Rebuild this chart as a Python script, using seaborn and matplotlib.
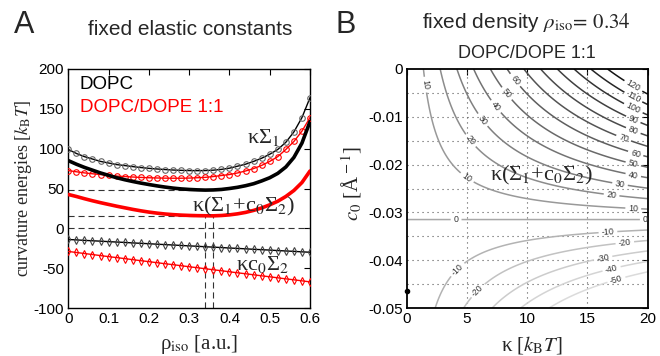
import numpy as np
import pandas as pd
import matplotlib
matplotlib.use("Agg")
import matplotlib.pyplot as plt
from matplotlib.ticker import FixedLocator, FixedFormatter
import seaborn as sns

# ---------------- data: panel A ----------------
rho_iso = [0.00, 0.02, 0.04, 0.06, 0.08, 0.10, 0.12, 0.14, 0.16, 0.18,
           0.20, 0.22, 0.24, 0.26, 0.28, 0.30, 0.32, 0.34, 0.36, 0.38,
           0.40, 0.42, 0.44, 0.46, 0.48, 0.50, 0.52, 0.54, 0.56, 0.58, 0.60]
# kappa*Sigma1
dopc_bending = [99, 94, 90, 87, 84, 82, 80, 78.8, 77.5, 76.3,
                75.3, 74.5, 73.8, 73.2, 72.8, 72.5, 72.4, 72.5, 73, 74,
                75.5, 78, 80.5, 84, 88, 93, 99, 108, 121, 139, 164]
mix_bending = [72.5, 71, 69.6, 68.5, 67.5, 66.5, 65.6, 65, 64.4, 63.9,
               63.5, 63.2, 63, 62.9, 62.9, 63.1, 63.5, 64, 65, 66.3,
               67.5, 69.5, 72, 75, 79, 84, 90, 99, 109, 122, 139]
# kappa*c0*Sigma2
dopc_spont = [-14, -14.5, -15.1, -15.6, -16.1, -16.7, -17.2, -17.7, -18.3, -18.8,
              -19.3, -19.9, -20.4, -20.9, -21.5, -22, -22.5, -23.1, -23.6, -24.1,
              -24.7, -25.2, -25.7, -26.3, -26.8, -27.3, -27.9, -28.4, -28.9, -29.5, -30]
mix_spont = [-29, -30.3, -31.6, -32.9, -34.2, -35.5, -36.7, -38, -39.3, -40.6,
             -41.8, -43.1, -44.4, -45.6, -46.9, -48.2, -49.4, -50.7, -52, -53.2,
             -54.5, -55.8, -57, -58.3, -59.6, -60.8, -62.1, -63.4, -64.6, -65.9, -67.2]
# kappa*(Sigma1 + c0*Sigma2)
dopc_total = [85, 80.5, 76.5, 73, 69.5, 66.5, 63.5, 61, 58.8, 56.8,
              55, 53.3, 51.8, 50.5, 49.5, 48.8, 48.3, 48, 48.2, 48.8,
              50, 51.5, 53.5, 56, 59.5, 63.5, 69, 77, 89, 107, 134]
mix_total = [42.5, 40, 37.2, 34.6, 32.2, 30, 27.8, 25.8, 23.8, 22,
             20.4, 19.1, 18, 17.2, 16.6, 16.2, 15.9, 15.8, 15.7, 16.1,
             16.9, 18.2, 20, 22.5, 25.6, 29.5, 34, 40, 47.5, 57.5, 72]

a_xticks = [0, 0.1, 0.2, 0.3, 0.4, 0.5, 0.6]
a_xticklabels = ["0", "0.1", "0.2", "0.3", "0.4", "0.5", "0.6"]
a_yticks = [-100, -50, 0, 50, 100, 150, 200]
a_yticklabels = ["-100", "-50", "0", "50", "100", "150", "200"]

# ---------------- data: panel B ----------------
sigma1 = 7.2        # Sigma_1 at rho_iso = 0.34 (DOPC/DOPE 1:1)
sigma2 = 228.6      # Sigma_2 [A]
kappa_range = [0, 20]
c0_range = [-0.05, 0]
contour_levels = [-50, -40, -30, -20, -10, 0, 10, 20, 30, 40, 50, 60,
                  70, 80, 90, 100, 110, 120]
contour_grays = [0.86, 0.83, 0.80, 0.76, 0.70, 0.66, 0.60, 0.55, 0.50, 0.45,
                 0.41, 0.37, 0.33, 0.29, 0.25, 0.20, 0.15, 0.08]
label_spots = [(10, 1.55), (10, 5.0), (10, 18.8), (20, 5.3), (20, 17.0),
               (30, 6.3), (30, 17.7), (40, 7.4), (40, 18.8), (50, 8.3),
               (50, 18.8), (60, 9.0), (60, 19.0), (70, 18.0), (80, 18.8),
               (90, 18.8), (100, 18.8), (110, 18.8), (120, 18.8), (0, 4.1),
               (0, 19.8), (-10, 4.2), (-10, 16.7), (-20, 5.9), (-20, 18.1),
               (-30, 16.3), (-40, 17.0), (-50, 17.4)]
dot_kappa = [0.0]
dot_c0 = [-0.0465]

b_xticks = [0, 5, 10, 15, 20]
b_xticklabels = ["0", "5", "10", "15", "20"]
b_yticks = [-0.05, -0.04, -0.03, -0.02, -0.01, 0]
b_yticklabels = ["-0.05", "-0.04", "-0.03", "-0.02", "-0.01", "0"]

# ---------------- style ----------------
sns.set_theme(style="white")
plt.rcParams["font.family"] = ["Liberation Sans", "DejaVu Sans"]
plt.rcParams["mathtext.fontset"] = "stix"
plt.rcParams["axes.unicode_minus"] = False
SERIF = ["Liberation Serif", "DejaVu Serif"]

fig = plt.figure(figsize=(6.6, 3.56), dpi=100)
fig.patch.set_facecolor("white")
axA = fig.add_axes([0.1035, 0.1348, 0.3662, 0.6714])
axB = fig.add_axes([0.6162, 0.1348, 0.3652, 0.6714])

# ---------------- panel A ----------------
df = pd.DataFrame({"rho": rho_iso,
                   "dopc_bending": dopc_bending, "mix_bending": mix_bending,
                   "dopc_spont": dopc_spont, "mix_spont": mix_spont,
                   "dopc_total": dopc_total, "mix_total": mix_total})

dash = (0, (5.5, 3.5))
# guide lines at the minima of the total curves
i_b = int(np.argmin(dopc_total))
i_m = int(np.argmin(mix_total))
axA.axhline(0, color="#333333", lw=0.8, ls=dash, zorder=1)
axA.plot([0, rho_iso[i_b]], [dopc_total[i_b]] * 2, color="#333333", lw=0.8, ls=dash, zorder=1)
axA.plot([0, rho_iso[i_m]], [mix_total[i_m]] * 2, color="#333333", lw=0.8, ls=dash, zorder=1)
for i in (i_b, i_m):
    axA.plot([rho_iso[i]] * 2, [-100, mix_total[i_m]], color="#333333", lw=0.8, ls=dash, zorder=1)


def draw(y, color, lw, marker=None, mec=None):
    kw = dict(x="rho", y=y, data=df, ax=axA, color=color, lw=lw, legend=False, zorder=3)
    if marker is not None:
        kw.update(marker=marker, markersize=4.0, markerfacecolor="none",
                  markeredgecolor=mec, markeredgewidth=0.8)
    sns.lineplot(**kw)


draw("dopc_bending", "black", 1.0, "o", "#666666")
draw("mix_bending", "#ff0000", 1.0, "o", "#ff0000")
draw("dopc_spont", "black", 1.0, "d", "#444444")
draw("mix_spont", "#ff0000", 1.0, "d", "#ff0000")
draw("dopc_total", "black", 2.6)
draw("mix_total", "#ff0000", 2.6)

axA.set_xlim(0, 0.6)
axA.set_ylim(-100, 200)
axA.xaxis.set_major_locator(FixedLocator(a_xticks))
axA.xaxis.set_major_formatter(FixedFormatter(a_xticklabels))
axA.yaxis.set_major_locator(FixedLocator(a_yticks))
axA.yaxis.set_major_formatter(FixedFormatter(a_yticklabels))
axA.set_xlabel("")
axA.set_ylabel("")

axA.text(0.029, 180, "DOPC", color="black", fontsize=13.5, ha="left", va="center")
axA.text(0.029, 152, "DOPC/DOPE 1:1", color="#ff0000", fontsize=13.5, ha="left", va="center")
axA.text(0.483, 114, r"κΣ$_{\rm 1}$", family=SERIF, fontsize=16, ha="center", va="center")
axA.text(0.434, 28, r"κ(Σ$_{\rm 1}$+c$_{\rm 0}$Σ$_{\rm 2}$)", family=SERIF, fontsize=16,
         ha="center", va="center")
axA.text(0.481, -46, r"κc$_{\rm 0}$Σ$_{\rm 2}$", family=SERIF, fontsize=16,
         ha="center", va="center")

# ---------------- panel B ----------------
kap = np.linspace(kappa_range[0], kappa_range[1], 401)
c0 = np.linspace(c0_range[0], c0_range[1], 401)
K, C = np.meshgrid(kap, c0)
Z = K * (sigma1 + C * sigma2)
cs = axB.contour(K, C, Z, levels=contour_levels,
                 colors=[str(g) for g in contour_grays], linewidths=1.1, zorder=2)
spots = [(k, (lev / k - sigma1) / sigma2) for lev, k in label_spots]
axB.clabel(cs, manual=spots, inline=True, fmt="%d", fontsize=6.3, colors="#333333",
           inline_spacing=3)

for k in [5, 10, 15]:
    axB.axvline(k, color="#555555", lw=0.8, ls=(0, (1, 3.5)), zorder=1)
for c in [-0.045, -0.04, -0.035, -0.03, -0.025, -0.02, -0.015, -0.01, -0.005]:
    axB.axhline(c, color="#555555", lw=0.8, ls=(0, (1, 3.5)), zorder=1)

axB.plot(dot_kappa, dot_c0, "o", color="black", markersize=3, clip_on=False, zorder=5)

axB.set_xlim(*kappa_range)
axB.set_ylim(*c0_range)
axB.xaxis.set_major_locator(FixedLocator(b_xticks))
axB.xaxis.set_major_formatter(FixedFormatter(b_xticklabels))
axB.yaxis.set_major_locator(FixedLocator(b_yticks))
axB.yaxis.set_major_formatter(FixedFormatter(b_yticklabels))
axB.text(11.2, -0.0222, r"κ(Σ$_{\rm 1}$+c$_{\rm 0}$Σ$_{\rm 2}$)", family=SERIF, fontsize=16,
         ha="center", va="center", zorder=6)

for ax, slw in ((axA, 1.0), (axB, 1.3)):
    ax.set_facecolor("white")
    for s in ax.spines.values():
        s.set_visible(True)
        s.set_color("black")
        s.set_linewidth(slw)
    ax.tick_params(direction="in", top=True, right=True, length=4, width=0.8,
                   labelsize=11, colors="black", pad=3)

# ---------------- labels / titles ----------------
fig.text(0.3015, 0.031, r"ρ$_{\rm iso}$ [a.u.]", family=SERIF, fontsize=15, ha="center", va="center")
fig.text(0.035, 0.469, r"curvature energies [$k_{\rm B}T$]", family=SERIF, fontsize=13,
         ha="center", va="center", rotation=90)
fig.text(0.806, 0.031, r"κ [$k_{\rm B}T$]", family=SERIF, fontsize=15, ha="center", va="center")
fig.text(0.533, 0.485, r"$c_0$ [Å$^{\rm -1}$]", family=SERIF, fontsize=15,
         ha="center", va="center", rotation=90)

fig.text(0.0364, 0.93, "A", fontsize=22, ha="center", va="center")
fig.text(0.524, 0.93, "B", fontsize=22, ha="center", va="center")
fig.text(0.288, 0.916, "fixed elastic constants", fontsize=15, ha="center", va="center")
fig.text(0.798, 0.938, r"fixed density $\rho_{\rm iso}\!=\,0.34$", fontsize=15,
         ha="center", va="center")
fig.text(0.798, 0.851, "DOPC/DOPE 1:1", fontsize=13, ha="center", va="center")

fig.savefig("out.png", dpi=100, facecolor="white")
